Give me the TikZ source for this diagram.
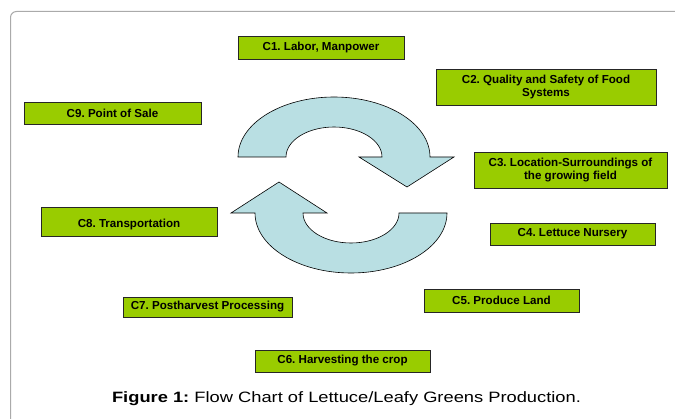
\documentclass[tikz,border=0pt]{standalone}
\usepackage{fontspec}
\setmainfont{Liberation Sans}
\frenchspacing
\definecolor{boxgreen}{HTML}{99CC00}
\definecolor{arrowblue}{HTML}{B9DFE3}
\definecolor{framegray}{HTML}{AAAAAA}
\begin{document}
\begin{tikzpicture}[x=1pt,y=-1pt,
  cbox/.style={draw=black!85, line width=0.9pt, fill=boxgreen, inner sep=1pt,
    font=\fontsize{11.6}{13.3}\selectfont\bfseries, align=center, text=black},
  cyclearrow/.style={draw=black, line width=0.6pt, fill=arrowblue, line join=miter}]
\useasboundingbox (0,0) rectangle (675,419);
\fill[white] (0,0) rectangle (675,419);
% frame
\draw[framegray, line width=1pt, rounded corners=6pt] (10.5,440) -- (10.5,11.5) -- (700,11.5);
% top cycle arrow
\draw[cyclearrow] (238,157) arc[start angle=180, end angle=360, x radius=96, y radius=60]
  -- (454,157) -- (407,187) -- (359,157) -- (382,157)
  arc[start angle=360, end angle=180, x radius=48, y radius=30] -- cycle;
% bottom cycle arrow
\draw[cyclearrow] (447,213) arc[start angle=0, end angle=180, x radius=96, y radius=60]
  -- (231,213) -- (279,182) -- (327,213) -- (303,213)
  arc[start angle=180, end angle=0, x radius=48, y radius=30] -- cycle;
% boxes
\node[cbox, minimum width=166pt, minimum height=23pt] (c1) at (321,47.5) {C1. Labor, Manpower};
\node[cbox, minimum width=220pt, minimum height=36pt] (c2) at (546,87) {C2. Quality and Safety of Food\\Systems};
\node[cbox, minimum width=193pt, minimum height=36pt] (c3) at (570.5,170) {C3. Location-Surroundings of\\the growing field};
\node[cbox, minimum width=165pt, minimum height=22pt] (c4) at (572.5,234) {C4. Lettuce Nursery};
\node[cbox, minimum width=155pt, minimum height=23pt] (c5) at (501.5,300.5) {C5. Produce Land};
\node[cbox, minimum width=175pt, minimum height=22pt] (c6) at (342.5,361) {C6. Harvesting the crop};
\node[cbox, minimum width=169pt, minimum height=20pt] (c7) at (207.5,307) {C7. Postharvest Processing};
\node[cbox, minimum width=176pt, minimum height=29pt, text height=12pt, text depth=0pt] (c8) at (129,221.5) {C8. Transportation};
\node[cbox, minimum width=177pt, minimum height=22pt] (c9) at (112.5,113) {C9. Point of Sale};
% caption
\node[anchor=base, font=\fontsize{15}{17}\selectfont, inner sep=0pt] (cap) at (346.5,402.7)
  {\scalebox{1.22}[1]{\textbf{Figure 1:} Flow Chart of Lettuce/Leafy Greens Production.}};
\end{tikzpicture}
\end{document}
